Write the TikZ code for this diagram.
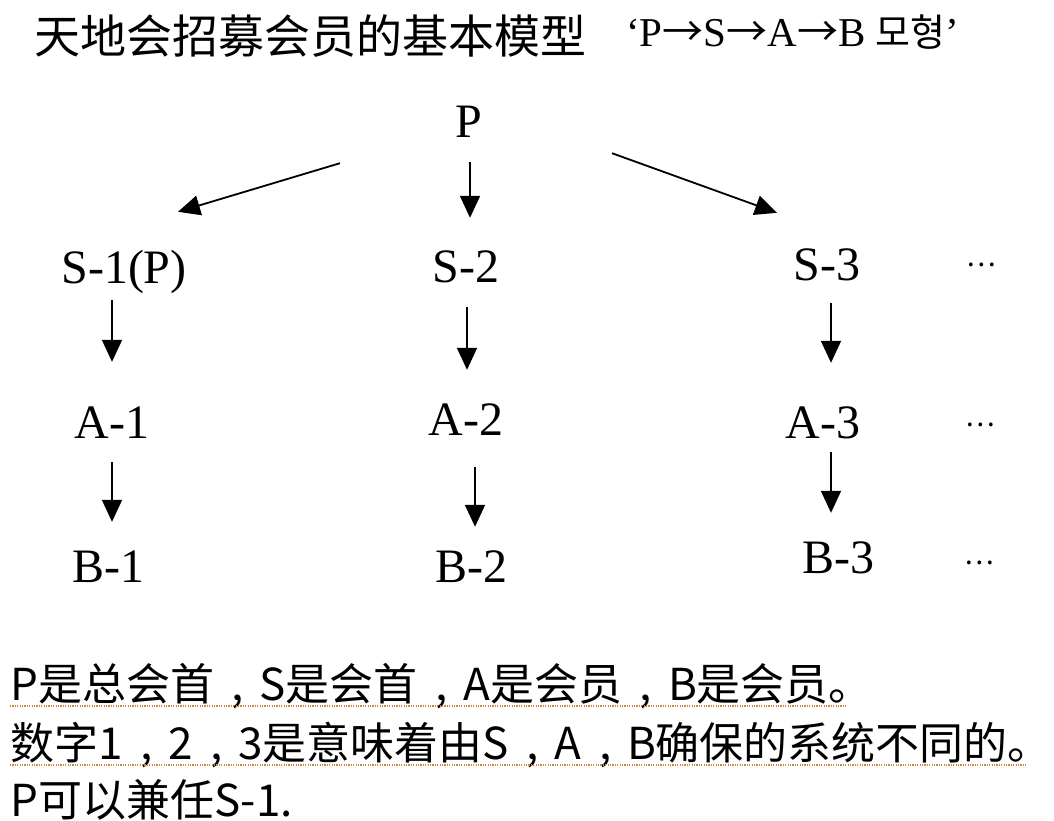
\documentclass[tikz,border=0pt]{standalone}
\usepackage{fontspec}
\setmainfont{Liberation Serif}
\newfontfamily\cjkfont{Noto Sans CJK SC}
\newfontfamily\krfont{Noto Sans CJK KR}
\newcommand\dcomma{\hspace{0.4em},\hspace{0.36em}}
\newcommand\toarrow{{\cjkfont →}}
\usetikzlibrary{arrows.meta}
\begin{document}
\begin{tikzpicture}[x=1pt, y=-1pt,
    member/.style={inner sep=0pt, anchor=base, text height=32pt, text depth=0pt, font=\fontsize{48}{56}\selectfont},
    more/.style={inner sep=0pt, font=\cjkfont\fontsize{28}{32}\selectfont},
    link/.style={line width=1.8pt, -{Triangle[length=22pt, width=20pt]}},
    note/.style={inner sep=0pt, anchor=base west, font=\cjkfont\fontsize{44}{50}\selectfont},
    squiggle/.style={draw=wavy, line width=2.4pt, dash pattern=on 1.2pt off 1.2pt}]
        \definecolor{wavy}{RGB}{205,135,65}

        \fill[white] (0,0) rectangle (1054,820);
        \useasboundingbox (0,0) rectangle (1054,820);

        \node[anchor=base west, inner sep=0pt, font=\cjkfont\fontsize{46}{52}\selectfont] (title) at (34,53) {天地会招募会员的基本模型};
        \node[anchor=base west, inner sep=0pt, font=\fontsize{41}{48}\selectfont] (model) at (626,46) {‘P\toarrow S\toarrow A\toarrow B {\krfont\fontsize{38}{44}\selectfont 모형}’};

        \node[member] (p) at (469,137) {P};

        \node[member] (s1) at (124,283) {S-1(P)};
        \node[member] (s2) at (466,282) {S-2};
        \node[member] (s3) at (827,280) {S-3};
        \node[more] (d1) at (981,265) {…};

        \node[member] (a1) at (112,438) {A-1};
        \node[member] (a2) at (466,435) {A-2};
        \node[member] (a3) at (823,438) {A-3};
        \node[more] (d2) at (980,425) {…};

        \node[member] (b1) at (108,582) {B-1};
        \node[member] (b2) at (471,582) {B-2};
        \node[member] (b3) at (838,573) {B-3};
        \node[more] (d3) at (979,563) {…};

        \draw[link] ([shift={(-129,26)}]p.south) -- ([shift={(54,-39)}]s1.north);
        \draw[link] ([shift={(1,25)}]p.south) -- ([shift={(4,-32)}]s2.north);
        \draw[link] ([shift={(143,16)}]p.south) -- ([shift={(-50,-35)}]s3.north);

        \draw[link] ([shift={(-12,17)}]s1.south) -- ([shift={(0,-44)}]a1.north);
        \draw[link] ([shift={(0,24)}]a1.south) -- ([shift={(4,-28)}]b1.north);
        \draw[link] ([shift={(1,25)}]s2.south) -- ([shift={(1,-33)}]a2.north);
        \draw[link] ([shift={(9,32)}]a2.south) -- ([shift={(4,-23)}]b2.north);
        \draw[link] ([shift={(4,23)}]s3.south) -- ([shift={(8,-43)}]a3.north);
        \draw[link] ([shift={(8,14)}]a3.south) -- ([shift={(-7,-28)}]b3.north);

        \node[note] (l1) at (10,700) {P是总会首\dcomma S是会首\dcomma A是会员\dcomma B是会员。};
        \node[note] (l2) at (10,759) {数字1\dcomma 2\dcomma 3是意味着由S\dcomma A\dcomma B确保的系统不同的。};
        \node[note] (l3) at (10,816) {P可以兼任S-1.};
        \draw[squiggle] ([yshift=-6pt]l1.base west) -- ([shift={(-26,0)},yshift=-6pt]l1.base east);
        \draw[squiggle] ([yshift=-6pt]l2.base west) -- ([shift={(-26,0)},yshift=-6pt]l2.base east);
    \end{tikzpicture}
\end{document}
